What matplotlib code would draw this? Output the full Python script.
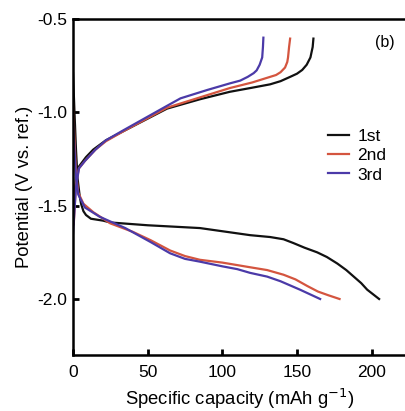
import matplotlib
matplotlib.use('Agg')
import matplotlib.pyplot as plt

plt.rcParams['font.family'] = ['Liberation Sans', 'DejaVu Sans']

# charge branches (capacity, potential)
charge1_c = [0.5, 2, 4, 8.7, 13.5, 22, 34, 63, 85, 105, 120, 132, 139, 145.4, 150, 153.5, 156.5, 159, 160.5, 161]
charge1_v = [-1.50, -1.35, -1.29, -1.24, -1.20, -1.15, -1.10, -0.98, -0.93, -0.89, -0.868, -0.85, -0.833, -0.81, -0.793, -0.773, -0.745, -0.706, -0.65, -0.605]
charge2_c = [0.5, 2, 4, 8, 15, 22, 34, 63, 85, 105, 120, 132, 136, 139, 142, 143.5, 144, 144.7, 145.4]
charge2_v = [-1.60, -1.38, -1.30, -1.26, -1.20, -1.155, -1.10, -0.975, -0.92, -0.87, -0.84, -0.81, -0.80, -0.785, -0.76, -0.73, -0.706, -0.65, -0.605]
charge3_c = [0, 2, 4, 8, 15, 22, 34, 63, 72, 90, 105, 112, 117, 121, 123, 125, 126.7, 127.2, 127.5]
charge3_v = [-1.65, -1.40, -1.30, -1.26, -1.20, -1.15, -1.095, -0.965, -0.925, -0.88, -0.845, -0.83, -0.81, -0.79, -0.775, -0.745, -0.706, -0.65, -0.60]

# discharge branches
dis1_c = [0, 1, 2, 3, 4.5, 5.4, 7, 8.7, 12, 20, 25, 50, 85, 118.6, 132, 141, 147.5, 155, 163.5, 170, 177, 183, 188, 193, 197, 201, 205]
dis1_v = [-0.79, -1.0, -1.2, -1.35, -1.45, -1.49, -1.53, -1.55, -1.57, -1.58, -1.59, -1.605, -1.62, -1.658, -1.668, -1.68, -1.70, -1.725, -1.75, -1.775, -1.81, -1.845, -1.88, -1.915, -1.95, -1.975, -2.0]
dis2_c = [0, 1, 2, 3.5, 7, 13.6, 25, 40, 52, 65, 75, 85, 100, 118.6, 130, 141, 149, 156.8, 164, 171, 178.5]
dis2_v = [-0.95, -1.15, -1.32, -1.43, -1.49, -1.535, -1.595, -1.64, -1.685, -1.74, -1.77, -1.79, -1.805, -1.83, -1.845, -1.87, -1.895, -1.93, -1.96, -1.98, -2.0]
dis3_c = [0, 1, 2, 3.5, 8, 18, 35, 52, 65, 75, 85, 100, 110, 118.6, 130, 139, 152, 165.5]
dis3_v = [-1.05, -1.2, -1.35, -1.44, -1.51, -1.56, -1.62, -1.695, -1.755, -1.785, -1.80, -1.825, -1.84, -1.86, -1.88, -1.905, -1.95, -2.0]

labels = ['1st', '2nd', '3rd']
colors = ['#111111', '#d4553f', '#4b3aa8']

fig = plt.figure(figsize=(4.06, 4.11), dpi=100)
ax = fig.add_axes([73 / 406, 56 / 411, 1 - 73 / 406, (355 - 19) / 411])

charges = [(charge1_c, charge1_v), (charge2_c, charge2_v), (charge3_c, charge3_v)]
discharges = [(dis1_c, dis1_v), (dis2_c, dis2_v), (dis3_c, dis3_v)]
for (cc, cv), (dc, dv), lab, col in zip(charges, discharges, labels, colors):
    ax.plot(cc, cv, color=col, linewidth=1.6, label=lab, solid_joinstyle='round')
    ax.plot(dc, dv, color=col, linewidth=1.6, solid_joinstyle='round')

ax.set_xlim(0, 223)
ax.set_ylim(-2.3, -0.5)
ax.set_xticks([0, 50, 100, 150, 200])
ax.set_yticks([-0.5, -1.0, -1.5, -2.0])
ax.set_yticklabels(['-0.5', '-1.0', '-1.5', '-2.0'])
ax.tick_params(direction='in', length=4, width=2, labelsize=12.5, pad=4)
ax.tick_params(axis='x', pad=7)
ax.spines['right'].set_visible(False)
for s in ['left', 'bottom', 'top']:
    ax.spines[s].set_linewidth(1.8)

ax.set_xlabel('Specific capacity (mAh g$^{-1}$)', fontsize=13.3, labelpad=5)
ax.set_ylabel('Potential (V vs. ref.)', fontsize=13.3, labelpad=3)

ax.legend(loc='upper left', bbox_to_anchor=(0.745, 0.695), frameon=False, fontsize=12.5,
          handlelength=1.2, handletextpad=0.5, labelspacing=0.25, borderaxespad=0)
ax.text(0.935, 0.93, '(b)', transform=ax.transAxes, fontsize=11.5, ha='center', va='center')

fig.savefig('out.png', dpi=100)
